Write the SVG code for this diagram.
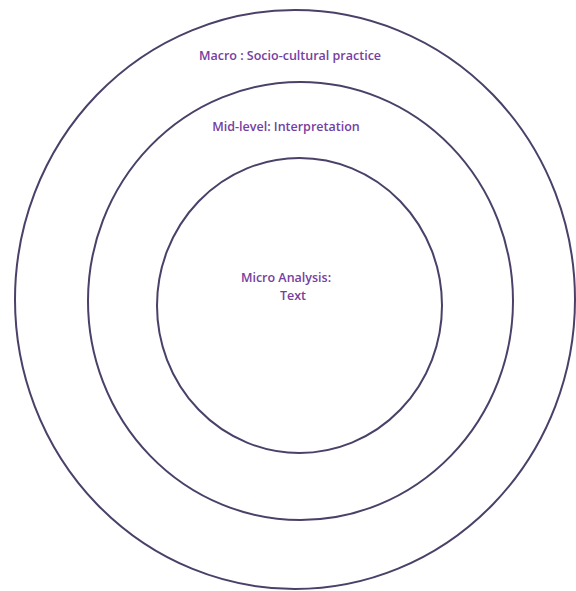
<svg xmlns="http://www.w3.org/2000/svg" width="576" height="591" viewBox="0 0 576 591">
<style>
.ring{fill:none;stroke:#4a4068;stroke-width:2}
.lbl{font-family:"Open Sans","Liberation Sans",sans-serif;font-size:12.5px;font-weight:600;fill:#7540a0;text-anchor:middle}
</style>
<rect width="576" height="591" fill="#ffffff"/>
<g id="macro">
<ellipse class="ring" cx="295" cy="299.5" rx="280" ry="289.5"/>
<text class="lbl" x="290" y="60">Macro : Socio-cultural practice</text>
</g>
<g id="mid">
<ellipse class="ring" cx="300.5" cy="301" rx="212.5" ry="219"/>
<text class="lbl" x="286" y="131">Mid-level: Interpretation</text>
</g>
<g id="micro">
<ellipse class="ring" cx="299.5" cy="305.5" rx="142.5" ry="147.5"/>
<text class="lbl" x="286" y="282">Micro Analysis:</text>
<text class="lbl" x="293" y="300">Text</text>
</g>
<g id="connectors"/>
</svg>
